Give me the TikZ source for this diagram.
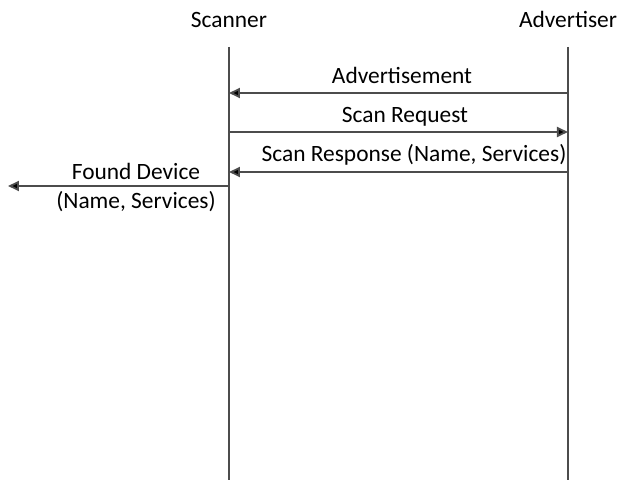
\documentclass[tikz,border=0pt]{standalone}
\usepackage{fontspec}
\setmainfont{Carlito}
\usetikzlibrary{arrows.meta}

\begin{document}
\begin{tikzpicture}[x=0.5pt,y=-0.5pt,
    lifeline/.style={draw=black!70, line width=0.9pt},
    msg/.style={draw=black!70, line width=0.9pt, -{Triangle[length=5.5pt,width=5pt,fill=black]}},
    lbl/.style={anchor=base, inner sep=0pt, font=\fontsize{11.7}{14.5}\selectfont}]
    \def\xs{229}
    \def\xa{568}
    \useasboundingbox (0,0) rectangle (618,480);
    % lifelines
    \node[lbl] (scanner) at (\xs,28) {Scanner};
    \node[lbl] (advertiser) at (\xa,28) {Advertiser};
    \coordinate (sTop) at (\xs,47);
    \coordinate (sBot) at (\xs,480);
    \coordinate (aTop) at (\xa,47);
    \coordinate (aBot) at (\xa,480);
    \draw[lifeline] (sTop) -- (sBot);
    \draw[lifeline] (aTop) -- (aBot);
    % message ends
    \foreach \n/\y in {1/93,2/132,3/172}{
        \coordinate (s\n) at (\xs,\y);
        \coordinate (a\n) at (\xa,\y);
    }
    \coordinate (s4) at (\xs,186);
    \coordinate (out) at (8,186);
    % messages
    \draw[msg] (a1) -- (s1);
    \node[lbl] (adv) at (402,84) {Advertisement};
    \draw[msg] (s2) -- (a2);
    \node[lbl] (req) at (405,123) {Scan Request};
    \draw[msg] (a3) -- (s3);
    \node[lbl] (rsp) at (414,162) {Scan Response (Name, Services)};
    \draw[msg] (s4) -- (out);
    \node[lbl, anchor=center, align=center] (found) at (136,188) {Found Device\\(Name, Services)};
\end{tikzpicture}
\end{document}
